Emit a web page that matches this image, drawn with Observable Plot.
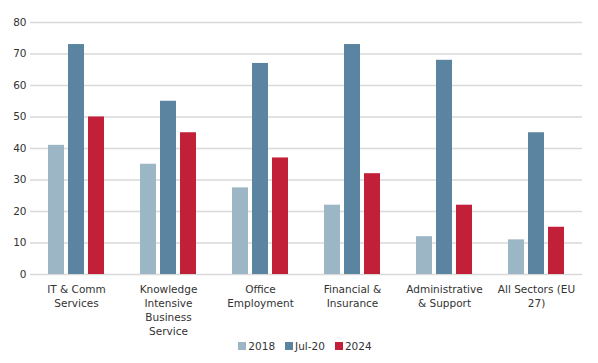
<!DOCTYPE html>
<html><head><meta charset="utf-8">
<script src="https://cdn.jsdelivr.net/npm/d3@7"></script>
<script src="https://cdn.jsdelivr.net/npm/@observablehq/plot@0.6"></script>
<style>
body{margin:0;background:#fff;font-family:"DejaVu Sans",sans-serif;}
#legend{display:flex;justify-content:center;gap:10px;font-size:10.5px;color:#333;margin-top:0px;padding-left:12px}
#legend span.sw{display:inline-block;width:8px;height:8px;margin-right:2px;vertical-align:-0px}
</style></head><body>
<div id="chart"></div>
<div id="legend"></div>
<script>
const categories = ["IT & Comm\nServices","Knowledge\nIntensive\nBusiness\nService","Office\nEmployment","Financial &\nInsurance","Administrative\n& Support","All Sectors (EU\n27)"];
const series = ["2018","Jul-20","2024"];
const v2018 = [41,35,27.5,22,12,11];
const vJul20 = [73,55,67,73,68,45];
const v2024 = [50,45,37,32,22,15];
const colors = ["#9db6c5","#5a84a0","#c21f39"];
const yTicks = [0,10,20,30,40,50,60,70,80];

const values = [v2018,vJul20,v2024];
const data = [];
categories.forEach((c,i)=>series.forEach((s,j)=>data.push({cat:c,series:s,value:values[j][i]})));

const chart = Plot.plot({
  width:598, height:340,
  marginTop:22, marginBottom:66, marginLeft:30, marginRight:16,
  style:{fontFamily:"DejaVu Sans, sans-serif", fontSize:"10.5px", color:"#333"},
  fx:{domain:categories, padding:0, label:null},
  x:{domain:series, axis:null, paddingInner:0.22, paddingOuter:0.855},
  y:{domain:[0,80], ticks:yTicks, label:null, axis:null},
  color:{domain:series, range:colors},
  marks:[
    Plot.ruleY(yTicks,{stroke:"#d9d9d9", strokeWidth:1.5}),
    Plot.axisY(yTicks,{tickSize:0, tickPadding:4, label:null}),
    Plot.axisFx({anchor:"bottom", tickSize:0, tickPadding:9, lineHeight:1.33, label:null}),
    Plot.barY(data,{fx:"cat", x:"series", y:"value", fill:"series"})
  ]
});
document.getElementById("chart").appendChild(chart);
const leg = document.getElementById("legend");
series.forEach((s,j)=>{
  const d=document.createElement("div");
  d.innerHTML=`<span class="sw" style="background:${colors[j]}"></span>${s}`;
  leg.appendChild(d);
});
</script>
</body></html>
